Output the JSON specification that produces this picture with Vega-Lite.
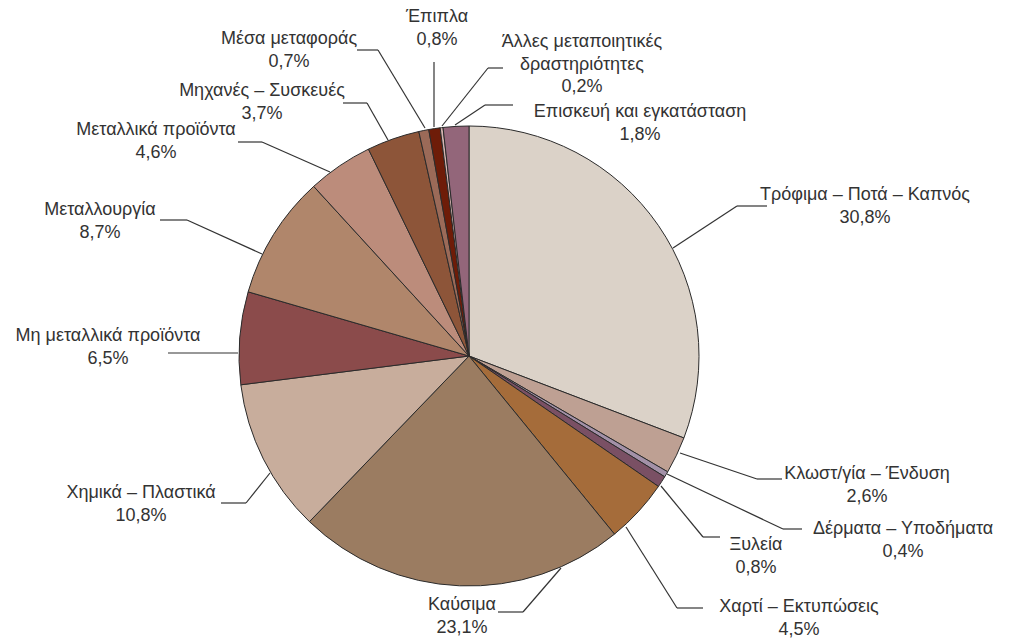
{
  "$schema": "https://vega.github.io/schema/vega-lite/v6.json",
  "width": 1012,
  "height": 640,
  "autosize": {"type": "fit", "contains": "padding"},
  "padding": 0,
  "background": "white",
  "config": {"view": {"stroke": null}},
  "datasets": {
    "sectors": [
      {"i": 1, "sector": "Τρόφιμα – Ποτά – Καπνός", "value": 30.8},
      {"i": 2, "sector": "Κλωστ/γία – Ένδυση", "value": 2.6},
      {"i": 3, "sector": "Δέρματα – Υποδήματα", "value": 0.4},
      {"i": 4, "sector": "Ξυλεία", "value": 0.8},
      {"i": 5, "sector": "Χαρτί – Εκτυπώσεις", "value": 4.5},
      {"i": 6, "sector": "Καύσιμα", "value": 23.1},
      {"i": 7, "sector": "Χημικά – Πλαστικά", "value": 10.8},
      {"i": 8, "sector": "Μη μεταλλικά προϊόντα", "value": 6.5},
      {"i": 9, "sector": "Μεταλλουργία", "value": 8.7},
      {"i": 10, "sector": "Μεταλλικά προϊόντα", "value": 4.6},
      {"i": 11, "sector": "Μηχανές – Συσκευές", "value": 3.7},
      {"i": 12, "sector": "Μέσα μεταφοράς", "value": 0.7},
      {"i": 13, "sector": "Έπιπλα", "value": 0.8},
      {"i": 14, "sector": "Άλλες μεταποιητικές δραστηριότητες", "value": 0.2},
      {"i": 15, "sector": "Επισκευή και εγκατάσταση", "value": 1.8}
    ],
    "labels": [
      {"sector": "Τρόφιμα – Ποτά – Καπνός", "label": "Τρόφιμα – Ποτά – Καπνός", "sx": 204, "sy": 108, "ex": 268, "ey": 150, "hx": 298, "hy": 150, "lx": 396, "ly": 161},
      {"sector": "Κλωστ/γία – Ένδυση", "label": "Κλωστ/γία – Ένδυση", "sx": 211, "sy": -97, "ex": 288, "ey": -123, "hx": 313, "hy": -123, "lx": 398, "ly": -118},
      {"sector": "Δέρματα – Υποδήματα", "label": "Δέρματα – Υποδήματα", "sx": 198, "sy": -118, "ex": 314, "ey": -173, "hx": 333, "hy": -173, "lx": 434, "ly": -173},
      {"sector": "Ξυλεία", "label": "Ξυλεία", "sx": 192, "sy": -130, "ex": 234, "ey": -181, "hx": 251, "hy": -181, "lx": 287, "ly": -189},
      {"sector": "Χαρτί – Εκτυπώσεις", "label": "Χαρτί – Εκτυπώσεις", "sx": 157, "sy": -171, "ex": 208, "ey": -252, "hx": 234, "hy": -252, "lx": 330, "ly": -251},
      {"sector": "Καύσιμα", "label": "Καύσιμα", "sx": 92, "sy": -212, "ex": 54, "ey": -256, "hx": 29, "hy": -256, "lx": -7, "ly": -249},
      {"sector": "Χημικά – Πλαστικά", "label": "Χημικά – Πλαστικά", "sx": -199, "sy": -117, "ex": -223, "ey": -147, "hx": -248, "hy": -147, "lx": -328, "ly": -137},
      {"sector": "Μη μεταλλικά προϊόντα", "label": "Μη μεταλλικά προϊόντα", "sx": -231, "sy": 3, "ex": -231, "ey": 3, "hx": -301, "hy": 3, "lx": -361, "ly": 20},
      {"sector": "Μεταλλουργία", "label": "Μεταλλουργία", "sx": -207, "sy": 102, "ex": -282, "ey": 136, "hx": -309, "hy": 136, "lx": -369, "ly": 146},
      {"sector": "Μεταλλικά προϊόντα", "label": "Μεταλλικά προϊόντα", "sx": -139, "sy": 184, "ex": -207, "ey": 214, "hx": -231, "hy": 214, "lx": -313, "ly": 226},
      {"sector": "Μηχανές – Συσκευές", "label": "Μηχανές – Συσκευές", "sx": -81, "sy": 216, "ex": -102, "ey": 253, "hx": -126, "hy": 253, "lx": -207, "ly": 265},
      {"sector": "Μέσα μεταφοράς", "label": "Μέσα μεταφοράς", "sx": -44, "sy": 228, "ex": -91, "ey": 306, "hx": -112, "hy": 306, "lx": -180, "ly": 317},
      {"sector": "Έπιπλα", "label": "Έπιπλα", "sx": -35, "sy": 229, "ex": -35, "ey": 294, "hx": -35, "hy": 294, "lx": -32, "ly": 339},
      {"sector": "Άλλες μεταποιητικές δραστηριότητες", "label": "Άλλες μεταποιητικές\nδραστηριότητες", "sx": -27, "sy": 230, "ex": 19, "ey": 288, "hx": 34, "hy": 288, "lx": 113, "ly": 314},
      {"sector": "Επισκευή και εγκατάσταση", "label": "Επισκευή και εγκατάσταση", "sx": -14, "sy": 231, "ex": 16, "ey": 251, "hx": 44, "hy": 251, "lx": 171, "ly": 244}
    ]
  },
  "layer": [
    {
      "data": {"name": "sectors"},
      "mark": {"type": "arc", "outerRadius": 230, "stroke": "#2b2b2b", "strokeWidth": 1},
      "encoding": {
        "x": {"datum": 0, "type": "quantitative", "scale": {"domain": [-469, 543], "nice": false, "zero": false}, "axis": null},
        "y": {"datum": 0, "type": "quantitative", "scale": {"domain": [-284, 356], "nice": false, "zero": false}, "axis": null},
        "theta": {"field": "value", "type": "quantitative", "stack": true},
        "order": {"field": "i", "type": "quantitative"},
        "color": {
          "field": "sector",
          "type": "nominal",
          "legend": null,
          "scale": {
            "domain": ["Τρόφιμα – Ποτά – Καπνός", "Κλωστ/γία – Ένδυση", "Δέρματα – Υποδήματα", "Ξυλεία", "Χαρτί – Εκτυπώσεις", "Καύσιμα", "Χημικά – Πλαστικά", "Μη μεταλλικά προϊόντα", "Μεταλλουργία", "Μεταλλικά προϊόντα", "Μηχανές – Συσκευές", "Μέσα μεταφοράς", "Έπιπλα", "Άλλες μεταποιητικές δραστηριότητες", "Επισκευή και εγκατάσταση"],
            "range": ["#dbd2c8", "#bea093", "#a391a8", "#7a5064", "#a56c3a", "#9b7c61", "#c8ad9c", "#8b4b4b", "#b0866b", "#bc8c7b", "#8d5539", "#9b6a58", "#6e1c08", "#d4b4b0", "#93667a"]
          }
        }
      }
    },
    {
      "data": {"name": "labels"},
      "mark": {"type": "rule", "color": "#333333", "strokeWidth": 1.2},
      "encoding": {
        "x": {"field": "sx", "type": "quantitative"},
        "y": {"field": "sy", "type": "quantitative"},
        "x2": {"field": "ex"},
        "y2": {"field": "ey"}
      }
    },
    {
      "data": {"name": "labels"},
      "mark": {"type": "rule", "color": "#333333", "strokeWidth": 1.2},
      "encoding": {
        "x": {"field": "ex", "type": "quantitative"},
        "y": {"field": "ey", "type": "quantitative"},
        "x2": {"field": "hx"},
        "y2": {"field": "hy"}
      }
    },
    {
      "data": {"name": "labels"},
      "transform": [
        {"lookup": "sector", "from": {"data": {"name": "sectors"}, "key": "sector", "fields": ["value"]}},
        {"calculate": "datum.label + '\\n' + replace(format(datum.value, '.1f'), '.', ',') + '%'", "as": "txt"}
      ],
      "mark": {"type": "text", "font": "Liberation Sans", "fontSize": 18, "color": "#333333", "align": "center", "baseline": "middle", "lineBreak": "\n", "lineHeight": 22.5},
      "encoding": {
        "x": {"field": "lx", "type": "quantitative"},
        "y": {"field": "ly", "type": "quantitative"},
        "text": {"field": "txt", "type": "nominal"}
      }
    }
  ]
}
